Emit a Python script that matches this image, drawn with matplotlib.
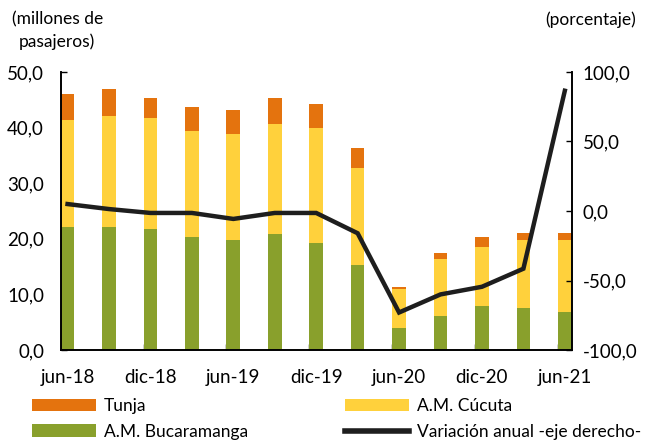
import numpy as np
import matplotlib
matplotlib.use("Agg")
import matplotlib.pyplot as plt
from matplotlib.patches import Patch
from matplotlib.lines import Line2D
from matplotlib.ticker import FuncFormatter, FixedLocator

# quarterly data, jun-18 .. jun-21 (millones de pasajeros)
quarters = ["jun-18", "sep-18", "dic-18", "mar-19", "jun-19", "sep-19", "dic-19",
            "mar-20", "jun-20", "sep-20", "dic-20", "mar-21", "jun-21"]
bucaramanga = [22.2, 22.2, 21.8, 20.4, 19.7, 20.8, 19.3, 15.2, 4.0, 6.2, 8.0, 7.6, 6.9]
cucuta = [19.2, 19.9, 20.0, 18.9, 19.2, 19.9, 20.7, 17.6, 7.0, 10.2, 10.6, 12.1, 12.8]
tunja = [4.7, 4.8, 3.6, 4.4, 4.3, 4.7, 4.3, 3.6, 0.4, 1.1, 1.8, 1.4, 1.4]
variacion = [5.0, 1.4, -1.4, -1.4, -5.7, -1.4, -1.4, -16.0, -73.0, -60.0, -54.5, -41.5, 86.5]

C_GREEN = "#89A02C"
C_YELLOW = "#FFD13C"
C_ORANGE = "#E4730E"
C_LINE = "#1E1E1E"

plt.rcParams["font.family"] = ["Lato", "DejaVu Sans"]
FS = 12.5      # titles / legend
FS_TICK = 13.5

fig = plt.figure(figsize=(6.5, 4.4), dpi=100)
ax = fig.add_axes([0.0934, 0.2045, 0.7861, 0.6319])

x = np.arange(len(quarters))
w = 0.33
b1 = np.array(bucaramanga)
b2 = b1 + np.array(cucuta)
ax.bar(x, bucaramanga, w, color=C_GREEN, zorder=2)
ax.bar(x, cucuta, w, bottom=b1, color=C_YELLOW, zorder=2)
ax.bar(x, tunja, w, bottom=b2, color=C_ORANGE, zorder=2)

ax.set_xlim(-w / 2, len(quarters) - 1 + w / 2)
ax.set_ylim(0, 50)
ax.set_yticks(np.arange(0, 51, 10))
comma = FuncFormatter(lambda v, p: f"{v:.1f}".replace(".", ","))
ax.yaxis.set_major_formatter(comma)

# labels under every second bar, tick marks at bar left edges
ax.set_xticks(x[::2])
ax.set_xticklabels(quarters[::2])
ax.tick_params(axis="x", length=0, pad=14, labelsize=FS_TICK)
ax.xaxis.set_minor_locator(FixedLocator(x[2::2] - w / 2))
ax.tick_params(axis="x", which="minor", direction="in", length=4, width=1)
ax.tick_params(axis="y", direction="in", length=4, width=1, labelsize=FS_TICK, pad=12)

ax2 = ax.twinx()
ax2.plot(x, variacion, color=C_LINE, lw=3.2, zorder=5, solid_joinstyle="miter")
ax2.set_ylim(-100, 100)
ax2.set_yticks(np.arange(-100, 101, 50))
ax2.yaxis.set_major_formatter(comma)
ax2.tick_params(axis="y", direction="in", length=4, width=1, labelsize=FS_TICK, pad=8)

for a in (ax, ax2):
    a.spines["top"].set_visible(False)
    for s in ("left", "right", "bottom"):
        a.spines[s].set_linewidth(1.2)
        a.spines[s].set_color("#000000")

fig.text(0.088, 0.975, "(millones de\npasajeros)", ha="center", va="top",
         fontsize=FS, linespacing=1.45)
fig.text(0.978, 0.975, "(porcentaje)", ha="right", va="top", fontsize=FS)

handles = [Patch(facecolor=C_ORANGE), Patch(facecolor=C_GREEN),
           Patch(facecolor=C_YELLOW), Line2D([0], [0], color=C_LINE, lw=4)]
labels = ["Tunja", "A.M. Bucaramanga", "A.M. Cúcuta", "Variación anual -eje derecho-"]
fig.legend(handles, labels, ncol=2, loc="lower left", bbox_to_anchor=(0.03, -0.027),
           frameon=False, fontsize=FS, handlelength=3.7, handleheight=0.75,
           handletextpad=0.45, columnspacing=5.6, labelspacing=0.55, borderpad=0.2)

fig.savefig("out.png", dpi=100)
